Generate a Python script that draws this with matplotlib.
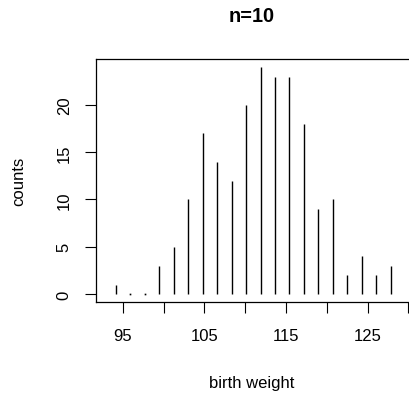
import numpy as np
import matplotlib.pyplot as plt

plt.rcParams['font.family'] = ['Liberation Sans', 'DejaVu Sans']

# midpoints of the weight classes and counts per class
weight = [94.15, 95.93, 97.73, 99.45, 101.25, 102.96, 104.80, 106.55, 108.35, 110.10,
          111.90, 113.65, 115.40, 117.17, 118.95, 120.72, 122.47, 124.27, 126.02, 127.82]
counts = [1, 0, 0, 3, 5, 10, 17, 14, 12, 20,
          24, 23, 23, 18, 9, 10, 2, 4, 2, 3]

xticks = [95, 100, 105, 110, 115, 120, 125, 130]
xticklabels = ['95', '', '105', '', '115', '', '125', '']
yticks = [0, 5, 10, 15, 20]

W, H = 409, 402
fig = plt.figure(figsize=(W / 100, H / 100), dpi=100)
# plot region runs a little past the right edge of the picture (cropped panel)
ax = fig.add_axes([96 / W, (H - 303.3) / H, (412 - 96) / W, (303.3 - 60) / H])

x = np.array(weight)
y = np.array(counts)
ax.vlines(x, 0, y, color='black', linewidth=1.0)
# zero counts show up as small dots, like R's type="h"
ax.plot(x[y == 0], y[y == 0], 's', color='black', markersize=1.2, markeredgewidth=0)

ax.set_xlim(91.73, 130.43)
ax.set_ylim(-0.88, 24.87)

ax.set_xticks(xticks)
ax.set_xticklabels(xticklabels)
ax.set_yticks(yticks)
ax.set_yticklabels([str(v) for v in yticks], rotation=90, va='center')
ax.tick_params(axis='both', length=8, width=0.8, labelsize=12)
ax.tick_params(axis='x', pad=10.8)
ax.tick_params(axis='y', pad=9.5)

for s in ax.spines.values():
    s.set_linewidth(0.9)

fig.text(252 / W, 1 - 22 / H, 'n=10', ha='center', va='baseline',
         fontsize=14.4, fontweight='bold')
fig.text(252 / W, 1 - 388 / H, 'birth weight', ha='center', va='baseline',
         fontsize=12)
fig.text(19 / W, 1 - 181 / H, 'counts', ha='center', va='center', rotation=90,
         fontsize=12)

fig.savefig('out.png', dpi=100)
